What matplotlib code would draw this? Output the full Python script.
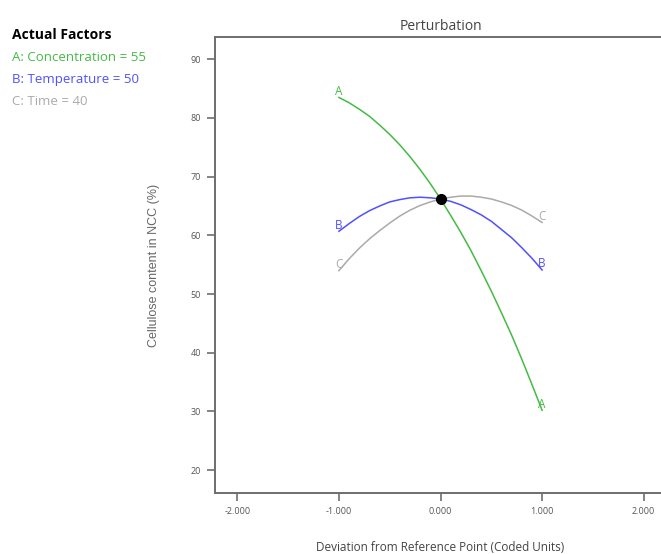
import matplotlib.pyplot as plt
import numpy as np

# Perturbation traces (coded deviation vs response)
deviation = [-1.0, -0.9, -0.8, -0.7, -0.6, -0.5, -0.4, -0.3, -0.2, -0.1, 0.0,
             0.1, 0.2, 0.3, 0.4, 0.5, 0.6, 0.7, 0.8, 0.9, 1.0]
conc = [83.5, 82.6, 81.5, 80.3, 78.8, 77.2, 75.4, 73.4, 71.2, 68.8, 66.2,
        63.4, 60.5, 57.4, 54.0, 50.5, 46.8, 43.0, 38.9, 34.6, 30.2]
temp = [60.7, 62.0, 63.2, 64.2, 65.0, 65.7, 66.1, 66.4, 66.5, 66.4, 66.2,
        65.8, 65.2, 64.4, 63.5, 62.4, 61.0, 59.6, 57.9, 56.1, 54.1]
time = [54.0, 56.0, 57.8, 59.4, 60.8, 62.1, 63.3, 64.3, 65.1, 65.7, 66.2,
        66.5, 66.7, 66.7, 66.5, 66.2, 65.7, 65.1, 64.3, 63.3, 62.2]
ref_point = (0.0, 66.2)

factor_names = ['A', 'B', 'C']
factor_labels = ['A: Concentration = 55', 'B: Temperature = 50', 'C: Time = 40']
x_ticks = [-2, -1, 0, 1, 2]
y_ticks = [20, 30, 40, 50, 60, 70, 80, 90]

green = '#44bb44'
blue = '#5050ff'
grey = '#aaaaaa'
axis_grey = '#6e6e6e'

fig = plt.figure(figsize=(6.61, 5.54), dpi=100)
ax = fig.add_axes([0.3253, 0.1101, 0.6823, 0.8231])

series = [conc, temp, time]
colors = [green, blue, grey]
for name, ys, c in zip(factor_names, series, colors):
    ax.plot(deviation, ys, color=c, lw=1.1)
    for xe, ye in [(deviation[0], ys[0]), (deviation[-1], ys[-1])]:
        ax.annotate(name, (xe, ye), xytext=(0, 6), textcoords='offset pixels',
                    ha='center', va='center', color=c, fontsize=8.5,
                    family='Open Sans')

ax.plot(*ref_point, 'o', color='black', ms=7)

ax.set_xlim(-2.22, 2.22)
ax.set_ylim(16.1, 93.8)
ax.set_xticks(x_ticks)
ax.set_xticklabels(['%.3f' % v for v in x_ticks])
ax.set_yticks(y_ticks)

for side in ['left', 'bottom', 'top']:
    ax.spines[side].set_color(axis_grey)
    ax.spines[side].set_linewidth(1.4)
ax.spines['right'].set_visible(False)

ax.tick_params(direction='out', length=6, width=1.2, color=axis_grey,
               labelsize=6.5, labelcolor='#555555', pad=4)
for lab in ax.get_xticklabels() + ax.get_yticklabels():
    lab.set_family('Open Sans')

ax.set_title('Perturbation', fontsize=10, color='#444444', family='Open Sans', pad=5)
ax.set_xlabel('Deviation from Reference Point (Coded Units)', fontsize=8.5,
              color='#444444', family='Open Sans', labelpad=18)
ax.set_ylabel('Cellulose content in NCC (%)', fontsize=9, color='#666666',
              family='Liberation Sans', labelpad=22)

fig.text(0.018, 0.937, 'Actual Factors', fontsize=10, fontweight='bold',
         family='Open Sans', color='black', va='center')
for i, (txt, c) in enumerate(zip(factor_labels, colors)):
    fig.text(0.018, 0.897 - i * 0.0405, txt, fontsize=9.5, color=c,
             family='Open Sans', va='center')

fig.savefig('out.png', dpi=100)
